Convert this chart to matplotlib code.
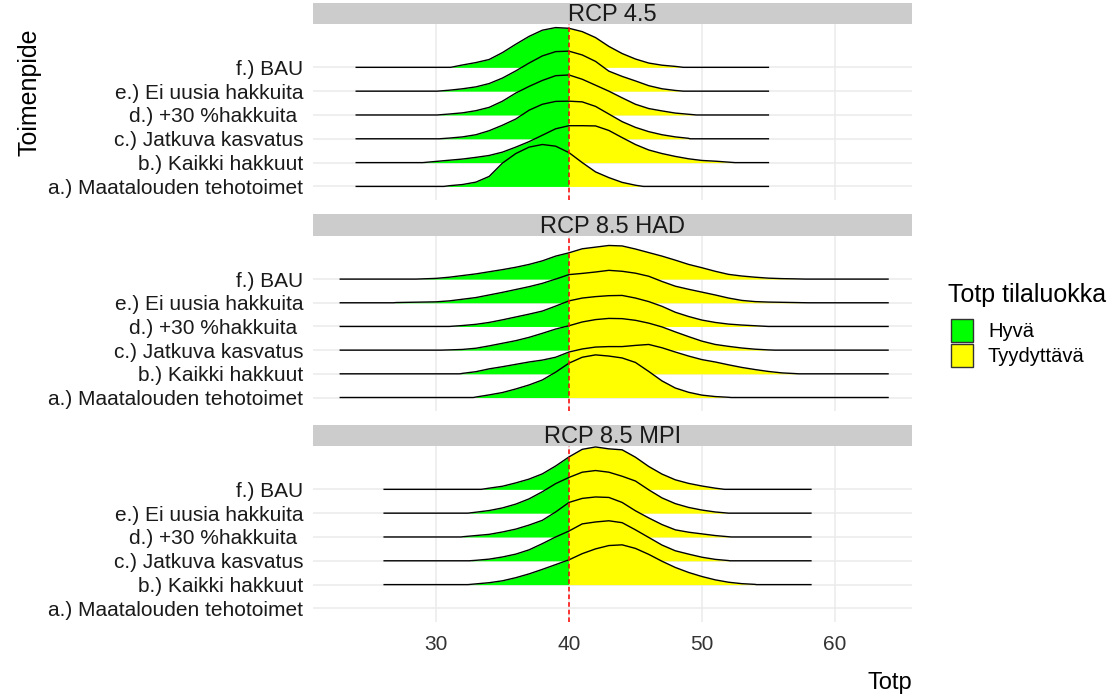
import numpy as np
import matplotlib
matplotlib.use("Agg")
import matplotlib.pyplot as plt
from matplotlib.patches import Rectangle

plt.rcParams['font.family'] = ['Liberation Sans', 'DejaVu Sans']

W, H = 1114, 696

panels = ["RCP 4.5", "RCP 8.5 HAD", "RCP 8.5 MPI"]
rows = ["a.) Maatalouden tehotoimet", "b.) Kaikki hakkuut", "c.) Jatkuva kasvatus",
        "d.) +30 %hakkuita ", "e.) Ei uusia hakkuita", "f.) BAU"]
legend_labels = ["Hyvä", "Tyydyttävä"]
fill_colors = ["#00FF00", "#FFFF00"]
threshold = 40
x_ticks = [30, 40, 50, 60]

# data range of each panel (the ridge baselines run over it)
range_45 = (24.0, 55.0)
range_had = (22.8, 64.0)
range_mpi = (26.1, 58.2)

# ridge = (first x, last x, density heights at the whole numbers in between), heights in row units
rcp45_a = (30.6, 45.6, [0.03, 0.08, 0.18, 0.42, 0.98, 1.38, 1.65, 1.76, 1.69, 1.42, 1.0, 0.61, 0.37, 0.17, 0.05])
rcp45_b = (29.0, 52.5, [0.05, 0.1, 0.15, 0.22, 0.3, 0.44, 0.65, 0.88, 1.15, 1.42, 1.55, 1.55, 1.54, 1.35, 1.05,
                        0.76, 0.53, 0.38, 0.26, 0.16, 0.09, 0.06, 0.02])
rcp45_c = (30.25, 49.1, [0.03, 0.08, 0.17, 0.34, 0.57, 0.83, 1.2, 1.45, 1.57, 1.58, 1.55, 1.36, 1.04, 0.72, 0.48,
                         0.3, 0.17, 0.08, 0.02])
rcp45_d = (30.1, 49.6, [0.04, 0.09, 0.18, 0.32, 0.58, 0.92, 1.2, 1.45, 1.65, 1.68, 1.5, 1.25, 1.0, 0.72, 0.45,
                        0.27, 0.17, 0.08, 0.03])
rcp45_e = (30.1, 48.6, [0.04, 0.1, 0.18, 0.32, 0.55, 0.85, 1.18, 1.48, 1.66, 1.68, 1.52, 1.25, 0.84, 0.62, 0.43,
                        0.23, 0.1, 0.03])
rcp45_f = (31.1, 48.6, [0.1, 0.2, 0.33, 0.62, 0.97, 1.3, 1.56, 1.67, 1.64, 1.5, 1.25, 0.88, 0.58, 0.35, 0.18,
                        0.09, 0.04])

had_a = (32.8, 52.2, [0.02, 0.11, 0.21, 0.36, 0.53, 0.74, 1.07, 1.45, 1.7, 1.8, 1.75, 1.67, 1.48, 1.1, 0.7,
                      0.4, 0.22, 0.1, 0.04, 0.01])
had_b = (31.8, 57.3, [0.02, 0.09, 0.21, 0.3, 0.4, 0.5, 0.58, 0.7, 0.92, 1.05, 1.13, 1.15, 1.15, 1.2, 1.24,
                      1.1, 0.92, 0.75, 0.6, 0.5, 0.38, 0.27, 0.18, 0.1, 0.04, 0.01])
had_c = (30.4, 55.5, [0.01, 0.03, 0.08, 0.18, 0.29, 0.4, 0.54, 0.71, 0.89, 1.03, 1.19, 1.29, 1.34, 1.33, 1.26,
                      1.14, 0.98, 0.77, 0.57, 0.38, 0.24, 0.16, 0.09, 0.04, 0.01])
had_d = (31.0, 55.0, [0.04, 0.09, 0.17, 0.28, 0.4, 0.52, 0.65, 0.86, 1.08, 1.2, 1.26, 1.3, 1.31, 1.2, 1.05,
                      0.85, 0.6, 0.42, 0.27, 0.17, 0.1, 0.06, 0.03])
had_e = (26.8, 58.0, [0.01, 0.02, 0.03, 0.04, 0.08, 0.15, 0.22, 0.33, 0.44, 0.56, 0.68, 0.82, 1.0, 1.19, 1.24,
                      1.3, 1.37, 1.33, 1.25, 1.12, 0.9, 0.7, 0.57, 0.45, 0.33, 0.2, 0.1, 0.05, 0.03, 0.02, 0.01])
had_f = (28.5, 57.8, [0.01, 0.03, 0.08, 0.15, 0.22, 0.31, 0.4, 0.5, 0.62, 0.77, 0.97, 1.11, 1.28, 1.35, 1.42,
                      1.4, 1.27, 1.12, 0.97, 0.8, 0.62, 0.48, 0.33, 0.2, 0.13, 0.08, 0.04, 0.02, 0.01])

mpi_a = None  # no data for a.) in RCP 8.5 MPI
mpi_b = (32.4, 54.1, [0.03, 0.08, 0.16, 0.29, 0.45, 0.64, 0.84, 1.04, 1.3, 1.5, 1.64, 1.67, 1.52, 1.27, 0.98,
                      0.72, 0.51, 0.34, 0.2, 0.1, 0.04, 0.01])
mpi_c = (32.5, 52.1, [0.02, 0.07, 0.16, 0.28, 0.46, 0.72, 1.0, 1.25, 1.55, 1.63, 1.68, 1.6, 1.3, 0.98, 0.66,
                      0.42, 0.28, 0.15, 0.06, 0.01])
mpi_d = (31.9, 52.2, [0.01, 0.06, 0.11, 0.21, 0.33, 0.5, 0.7, 1.05, 1.45, 1.62, 1.68, 1.66, 1.45, 1.1, 0.8,
                      0.52, 0.3, 0.2, 0.13, 0.06, 0.01])
mpi_e = (32.4, 52.0, [0.04, 0.11, 0.22, 0.38, 0.6, 0.9, 1.24, 1.5, 1.72, 1.79, 1.72, 1.55, 1.35, 0.98, 0.64,
                      0.4, 0.24, 0.13, 0.05])
mpi_f = (33.4, 51.7, [0.05, 0.13, 0.27, 0.43, 0.65, 0.98, 1.36, 1.68, 1.78, 1.7, 1.66, 1.35, 0.96, 0.64, 0.4,
                      0.25, 0.14, 0.05])

panel_ranges = [range_45, range_had, range_mpi]
panel_ridges = [
    [rcp45_a, rcp45_b, rcp45_c, rcp45_d, rcp45_e, rcp45_f],
    [had_a, had_b, had_c, had_d, had_e, had_f],
    [mpi_a, mpi_b, mpi_c, mpi_d, mpi_e, mpi_f],
]


def ridge_points(r):
    start, end, h = r
    inner = list(range(int(np.floor(start)) + 1, int(np.ceil(end))))
    assert len(inner) == len(h), (start, end, len(inner), len(h))
    xs = np.array([start] + inner + [end], dtype=float)
    hs = np.array([0.0] + h + [0.0])
    return xs, hs


fig = plt.figure(figsize=(W / 100, H / 100), dpi=100)

strip_tops = [3, 214, 425]
panel_tops = [24, 236, 446]
panel_bots = [200, 411, 622]
left, right = 313, 912
grid_col = "#EBEBEB"

for k in range(3):
    # facet strip
    sax = fig.add_axes([left / W, 1 - panel_tops[k] / H, (right - left) / W, (panel_tops[k] - strip_tops[k]) / H])
    sax.set_facecolor("#CCCCCC")
    sax.set_xticks([])
    sax.set_yticks([])
    for s in sax.spines.values():
        s.set_visible(False)
    sax.text(0.5, 0.42, panels[k], ha="center", va="center", fontsize=17, color="#1A1A1A",
             transform=sax.transAxes)

    ax = fig.add_axes([left / W, 1 - panel_bots[k] / H, (right - left) / W, (panel_bots[k] - panel_tops[k]) / H])
    ax.set_xlim(20.75, 65.8)
    ax.set_ylim(0.43, 7.82)
    for s in ax.spines.values():
        s.set_visible(False)
    ax.set_xticks(x_ticks)
    ax.set_yticks(range(1, len(rows) + 1))
    ax.set_yticklabels(rows, fontsize=15, color="#1A1A1A")
    ax.tick_params(length=0, axis="y", pad=7)
    ax.tick_params(length=0, axis="x", pad=9, labelsize=15, labelcolor="#333333")
    if k < 2:
        ax.set_xticklabels([])
    ax.grid(True, color=grid_col, lw=1.1, zorder=0)
    ax.set_axisbelow(True)

    xmin, xmax = panel_ranges[k]
    for i, r in enumerate(panel_ridges[k]):
        if r is None:
            continue
        base = i + 1
        xs, hs = ridge_points(r)
        z = 30 - 2 * i
        ax.fill_between(xs, base, base + hs, where=xs <= threshold, color=fill_colors[0], lw=0, zorder=z)
        ax.fill_between(xs, base, base + hs, where=xs >= threshold, color=fill_colors[1], lw=0, zorder=z)
        lx = np.concatenate([[xmin], xs, [xmax]])
        ly = base + np.concatenate([[0.0], hs, [0.0]])
        ax.plot(lx, ly, color="black", lw=1.0, zorder=z + 1)

    ax.axvline(threshold, color="#FF0000", ls=(0, (3, 2)), lw=1.1, zorder=50)

fig.text(30 / W, 1 - 92 / H, "Toimenpide", rotation=90, ha="center", va="center", fontsize=18)
fig.text(912 / W, 1 - 683 / H, "Totp", ha="right", va="center", fontsize=17)

# legend
fig.text(948 / W, 1 - 295 / H, "Totp tilaluokka", ha="left", va="center", fontsize=18)
key_tops = [319, 344]
label_ys = [331, 356]
for c, lab, kt, ly in zip(fill_colors, legend_labels, key_tops, label_ys):
    fig.patches.append(Rectangle((951 / W, 1 - (kt + 23) / H), 22 / W, 23 / H, facecolor=c,
                                 edgecolor="#333333", lw=1.0, transform=fig.transFigure, figure=fig))
    fig.text(988 / W, 1 - ly / H, lab, ha="left", va="center", fontsize=14.5)

fig.savefig("out.png", dpi=100)
